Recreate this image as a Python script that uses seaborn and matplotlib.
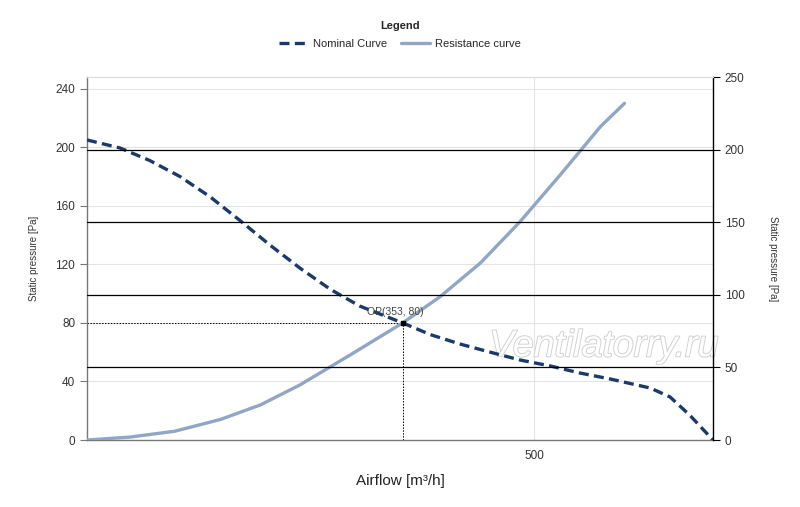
import matplotlib
matplotlib.use("Agg")
import matplotlib.pyplot as plt
import matplotlib.patheffects as pe
import seaborn as sns
import pandas as pd

# fan curve (airflow m3/h, static pressure Pa)
nominal_flow = [0, 37, 70, 104, 138, 171, 205, 238, 272, 305, 353, 384, 417, 451, 484,
                518, 551, 585, 630, 652, 674, 700]
nominal_pressure = [205, 199.5, 191, 180, 166, 150, 133, 117.5, 103, 91.5, 80, 72, 65.6,
                    60, 54.7, 50.6, 45.8, 41.7, 35.5, 29.4, 17, 0]

# system resistance curve
resist_flow = [0, 48, 98, 149, 194, 238, 294, 353, 395, 440, 484, 529, 574, 601]
resist_pressure = [0, 2, 6, 14, 24, 37.6, 58, 80, 98, 121, 149, 181, 214, 230]

op_flow = 353
op_pressure = 80

left_ticks = [0, 40, 80, 120, 160, 200, 240]
right_ticks = [0, 50, 100, 150, 200, 250]
x_ticks = [500]

nominal_color = "#1b3a6b"
resist_color = "#8fa6c6"

sns.set_style("white")
plt.rcParams["font.family"] = ["Liberation Sans", "DejaVu Sans"]

df_nom = pd.DataFrame({"flow": nominal_flow, "pressure": nominal_pressure})
df_res = pd.DataFrame({"flow": resist_flow, "pressure": resist_pressure})

fig = plt.figure(figsize=(8, 5.07), dpi=100)
ax = fig.add_axes([0.10875, 0.1321, 0.7825, 0.716])
ax2 = ax.twinx()

ax.set_xlim(0, 700)
ax.set_ylim(0, 248)
ax2.set_ylim(0, 250)

# grids: light on the left scale, black on the right scale
for t in left_ticks[1:]:
    ax.axhline(t, color="#e3e3e3", lw=0.8, zorder=0)
ax.axvline(500, color="#e3e3e3", lw=0.8, zorder=0)
for t in right_ticks[1:-1]:
    ax2.axhline(t, color="black", lw=0.9, zorder=0)

# operating point guides
ax.plot([0, op_flow], [op_pressure, op_pressure], color="black", lw=0.7, ls=(0, (1.5, 1.5)), zorder=2)
ax.plot([op_flow, op_flow], [0, op_pressure], color="black", lw=0.7, ls=(0, (1.5, 1.5)), zorder=2)

sns.lineplot(data=df_res, x="flow", y="pressure", ax=ax, color=resist_color, lw=2.4,
             label="Resistance curve", legend=False, zorder=3)
sns.lineplot(data=df_nom, x="flow", y="pressure", ax=ax, color=nominal_color, lw=2.4,
             dashes=False, label="Nominal Curve", legend=False, zorder=4)
ax.lines[-1].set_linestyle((0, (3, 1.6)))

ax.plot([op_flow], [op_pressure], marker="s", ms=3.5, color="black", zorder=5)
ax.text(op_flow - 8, op_pressure + 4, "OP(353, 80)", fontsize=7.5, color="#444444",
        ha="center", va="bottom", zorder=5)

# watermark
ax.text(578, 64, "Ventilatorry.ru", fontsize=27, style="italic", color="white",
        ha="center", va="center", zorder=1, clip_on=False,
        path_effects=[pe.withStroke(linewidth=1.3, foreground="#cfcfcf")])

ax.set_xticks(x_ticks)
ax.set_yticks(left_ticks)
ax2.set_yticks(right_ticks)
ax.tick_params(axis="both", labelsize=8.5, colors="#333333", length=5, width=0.8, direction="out")
ax.tick_params(axis="y", color="#777777")
ax.tick_params(axis="x", color="#333333", pad=2)
ax2.tick_params(axis="y", labelsize=8.5, colors="#333333", length=5, width=0.8, color="black", direction="out")

ax.set_xlabel("Airflow [m³/h]", fontsize=11, color="#222222", labelpad=9)
ax.set_ylabel("Static pressure [Pa]", fontsize=7, color="#333333", labelpad=12)
ax2.set_ylabel("Static pressure [Pa]", fontsize=7, color="#333333", rotation=270, labelpad=24)

for s in ["left", "bottom"]:
    ax.spines[s].set_color("#777777")
    ax.spines[s].set_linewidth(1.0)
ax.spines["top"].set_color("#dddddd")
ax2.spines["top"].set_color("#dddddd")
ax2.spines["right"].set_color("black")
ax2.spines["right"].set_linewidth(1.0)
ax2.spines["left"].set_visible(False)
ax2.spines["bottom"].set_visible(False)
ax.spines["right"].set_visible(False)

handles, labels = ax.get_legend_handles_labels()
order = [labels.index("Nominal Curve"), labels.index("Resistance curve")]
leg = fig.legend([handles[i] for i in order], [labels[i] for i in order],
                 loc="upper center", bbox_to_anchor=(0.5, 0.972), ncol=2, frameon=False,
                 fontsize=8, title="Legend", title_fontsize=8, handlelength=2.6,
                 columnspacing=1.2, handletextpad=0.5, borderaxespad=0.2)
leg.get_title().set_fontweight("bold")
leg._legend_box.sep = 6

fig.savefig("out.png", dpi=100)
